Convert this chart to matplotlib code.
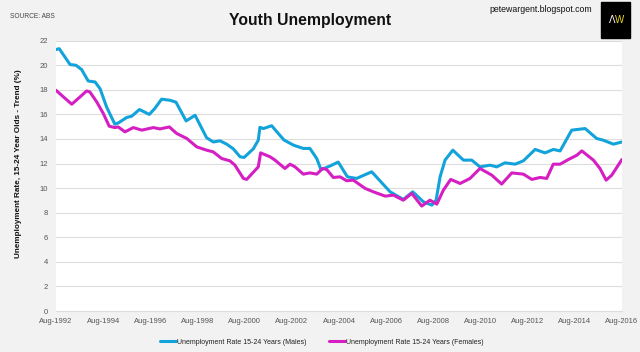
import numpy as np
import matplotlib
matplotlib.use("Agg")
import matplotlib.pyplot as plt
from matplotlib.patches import Rectangle

plt.rcParams['font.family'] = ['Liberation Sans', 'DejaVu Sans']

# data (decimal years, % rate)
male_dates = [1992.58, 1992.72, 1993.18, 1993.43, 1993.67, 1993.95, 1994.24, 1994.45,
              1994.73, 1995.08, 1995.22, 1995.58, 1995.79, 1996.12, 1996.54, 1996.78,
              1997.06, 1997.42, 1997.67, 1998.10, 1998.48, 1998.97, 1999.25, 1999.54,
              1999.82, 2000.10, 2000.39, 2000.56, 2000.95, 2001.16, 2001.23, 2001.38,
              2001.73, 2001.95, 2002.25, 2002.65, 2003.07, 2003.35, 2003.64, 2003.82,
              2004.20, 2004.55, 2004.94, 2005.33, 2005.97, 2006.75, 2007.31, 2007.71,
              2008.16, 2008.52, 2008.70, 2008.87, 2009.08, 2009.41, 2009.86, 2010.21,
              2010.56, 2010.99, 2011.27, 2011.62, 2012.05, 2012.40, 2012.90, 2013.32,
              2013.67, 2013.96, 2014.45, 2014.67, 2015.02, 2015.51, 2015.79, 2016.22,
              2016.58]
male_vals = [21.28, 21.35, 20.06, 20.0, 19.65, 18.72, 18.64, 18.1,
             16.6, 15.2, 15.3, 15.75, 15.85, 16.4, 16.0, 16.5,
             17.24, 17.15, 17.0, 15.47, 15.93, 14.1, 13.76, 13.85,
             13.58, 13.2, 12.55, 12.5, 13.2, 13.9, 14.95, 14.85,
             15.08, 14.58, 13.92, 13.5, 13.23, 13.23, 12.41, 11.5,
             11.8, 12.12, 10.92, 10.79, 11.33, 9.7, 9.08, 9.7,
             8.89, 8.62, 9.02, 10.92, 12.28, 13.09, 12.28, 12.28,
             11.73, 11.87, 11.73, 12.06, 11.95, 12.22, 13.15, 12.87,
             13.15, 13.03, 14.72, 14.77, 14.85, 14.04, 13.9, 13.58,
             13.76]

female_dates = [1992.58, 1992.82, 1993.25, 1993.60, 1993.88, 1994.02, 1994.31, 1994.59,
                1994.84, 1995.08, 1995.22, 1995.51, 1995.86, 1996.22, 1996.71, 1996.99,
                1997.39, 1997.70, 1998.13, 1998.55, 1998.97, 1999.25, 1999.61, 1999.96,
                2000.17, 2000.53, 2000.67, 2001.16, 2001.26, 2001.66, 2001.87, 2002.29,
                2002.51, 2002.72, 2003.07, 2003.35, 2003.64, 2003.89, 2004.06, 2004.34,
                2004.63, 2004.91, 2005.19, 2005.69, 2006.04, 2006.54, 2006.89, 2007.31,
                2007.67, 2008.09, 2008.44, 2008.73, 2009.01, 2009.32, 2009.72, 2010.14,
                2010.56, 2011.06, 2011.48, 2011.91, 2012.40, 2012.76, 2013.11, 2013.39,
                2013.67, 2013.96, 2014.31, 2014.67, 2014.88, 2015.37, 2015.65, 2015.91,
                2016.15, 2016.58]
female_vals = [17.97, 17.56, 16.83, 17.42, 17.91, 17.83, 17.02, 16.07,
               15.04, 14.93, 14.98, 14.58, 14.93, 14.72, 14.93, 14.82,
               14.98, 14.45, 14.04, 13.36, 13.09, 12.95, 12.41, 12.22,
               11.87, 10.79, 10.71, 11.73, 12.87, 12.55, 12.28, 11.6,
               11.95, 11.73, 11.14, 11.24, 11.14, 11.6, 11.52, 10.87,
               10.92, 10.6, 10.65, 9.98, 9.7, 9.35, 9.43, 9.02,
               9.57, 8.54, 9.02, 8.7, 9.84, 10.71, 10.38, 10.79,
               11.6, 11.06, 10.33, 11.24, 11.14, 10.71, 10.87, 10.79,
               11.95, 11.95, 12.33, 12.68, 13.03, 12.28, 11.6, 10.65,
               11.06, 12.33]

xtick_years = list(range(1992, 2017, 2))
xtick_labels = ['Aug-%d' % y for y in xtick_years]
yticks = list(range(0, 23, 2))

male_color = '#13a3db'
female_color = '#d61fc2'

fig = plt.figure(figsize=(6.4, 3.52), dpi=100, facecolor='#f2f2f2')
ax = fig.add_axes([56 / 640, 1 - 311 / 352, 566 / 640, 270.3 / 352])
ax.set_facecolor('white')

ax.plot(male_dates, male_vals, color=male_color, lw=2.2, solid_joinstyle='round',
        solid_capstyle='round', label='Unemployment Rate 15-24 Years (Males)')
ax.plot(female_dates, female_vals, color=female_color, lw=2.2, solid_joinstyle='round',
        solid_capstyle='round', label='Unemployment Rate 15-24 Years (Females)')

ax.set_xlim(1992 + 7 / 12, 2016 + 7 / 12)
ax.set_ylim(0, 22)
ax.set_xticks([y + 7 / 12 for y in xtick_years])
ax.set_xticklabels(xtick_labels)
ax.set_yticks(yticks)
ax.tick_params(axis='both', length=0, labelsize=5.5, colors='#555555')
ax.tick_params(axis='x', pad=5)
ax.tick_params(axis='y', pad=6)
ax.grid(axis='y', color='#dddddd', lw=0.8)
ax.set_axisbelow(True)
for s in ax.spines.values():
    s.set_visible(False)
ax.spines['bottom'].set_visible(True)
ax.spines['bottom'].set_color('#dddddd')

# y axis title, placed by hand to sit like the original
fig.text(19 / 640, 1 - 164 / 352, 'Unemployment Rate, 15-24 Year Olds - Trend (%)',
         rotation=90, ha='center', va='center', fontsize=5.9,
         fontweight='bold', color='#111111')

fig.text(0.484, 0.943, 'Youth Unemployment', ha='center', va='center',
         fontsize=11.3, fontweight='bold', color='#111111')
fig.text(10 / 640, 1 - 16 / 352, 'SOURCE: ABS', ha='left', va='center',
         fontsize=4.8, color='#444444')
fig.text(592 / 640, 1 - 10 / 352, 'petewargent.blogspot.com', ha='right', va='center',
         fontsize=6.3, color='#111111')

# logo box
fig.patches.append(Rectangle((601 / 640, 1 - 38 / 352), 29 / 640, 36 / 352,
                             transform=fig.transFigure, color='black', zorder=5))
fig.text(612 / 640, 1 - 20 / 352, '\u039b', ha='center', va='center', fontsize=7,
         color='white', zorder=6)
fig.text(620 / 640, 1 - 20 / 352, 'W', ha='center', va='center', fontsize=7,
         color='#e8d820', zorder=6)

leg = fig.legend(loc='center', bbox_to_anchor=(322 / 640, 1 - 342 / 352), ncol=2,
                 frameon=False, fontsize=5.0, handlelength=2.3, handletextpad=0.15,
                 columnspacing=3.2)
for t in leg.get_texts():
    t.set_color('#222222')

fig.savefig('out.png', dpi=100, facecolor=fig.get_facecolor())
